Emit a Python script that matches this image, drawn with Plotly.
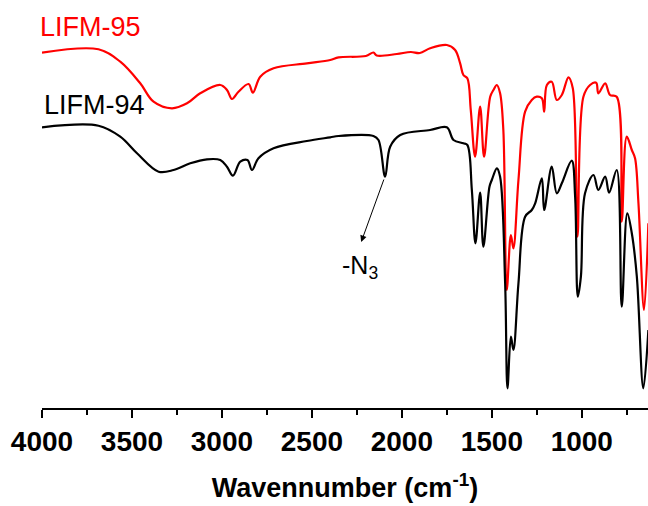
import plotly.graph_objects as go

# Wavenumbers (cm^-1) and transmittance (a.u.)
wn_95 = [4000, 3686, 3565, 3454, 3380, 3278, 3194, 3121, 3009, 2972, 2944, 2908, 2852, 2828,
         2787, 2713, 2528, 2398, 2352, 2200, 2158, 2140, 2028, 1950, 1900, 1843, 1750, 1704,
         1676, 1658, 1636, 1617, 1593, 1565, 1543, 1509, 1491, 1472, 1454, 1436, 1417, 1394,
         1380, 1352, 1315, 1278, 1250, 1222, 1209, 1194, 1167, 1139, 1111, 1074, 1050, 1024,
         991, 954, 920, 908, 870, 843, 806, 778, 750, 722, 704, 685, 654, 630]
t_95 = [355.3, 358.7, 346.3, 324.7, 306.3, 299.7, 304.7, 314.7, 323, 318, 309, 316.3, 324, 315.3,
        331.3, 339.7, 344.7, 348, 350.7, 352, 355.5, 352.5, 354, 356, 355, 359.7, 363, 358,
        344.7, 333, 329.7, 298, 251.3, 301.3, 251.3, 311.3, 318, 323, 314.7, 278, 118, 173,
        159.7, 228, 296.3, 308, 311.3, 309.7, 296.3, 323, 326.3, 308, 313, 330.7, 319.7, 171.3,
        311.3, 323, 325.3, 314.7, 324.7, 313, 311.3, 186.3, 271.3, 258, 249.7, 204.7, 98, 184.7]

wn_94 = [4000, 3686, 3565, 3472, 3352, 3269, 3176, 3083, 3009, 2972, 2939, 2898, 2858, 2833,
         2797, 2713, 2528, 2398, 2352, 2158, 2130, 2093, 2065, 2009, 1843, 1750, 1713, 1658,
         1636, 1611, 1591, 1565, 1547, 1513, 1500, 1472, 1454, 1426, 1413, 1394, 1380, 1352,
         1315, 1278, 1259, 1222, 1209, 1167, 1139, 1111, 1056, 1037, 1022, 1005, 982, 935,
         908, 870, 848, 806, 778, 747, 722, 694, 658, 630]
t_94 = [280.7, 282.3, 271.3, 254.7, 236.3, 238, 244.7, 248.7, 248, 241.3, 232.3, 246.3, 248, 238,
        249.7, 259.7, 267, 270.7, 272, 272, 268, 231.3, 261.3, 273, 278, 280.7, 268, 264.7,
        263, 218, 164.7, 215.3, 161.3, 221.3, 228, 239.7, 231.3, 124.7, 19.7, 71.3, 58, 124.7,
        191.3, 198, 204.7, 229.7, 198, 241.3, 214.7, 224.7, 247.3, 211.3, 111.3, 131.3, 214.7, 233,
        218, 231.3, 215.3, 238, 101.3, 194.7, 174.7, 131.3, 19.7, 78]

x_ticks = [4000, 3500, 3000, 2500, 2000, 1500, 1000]

fig = go.Figure()
fig.add_trace(go.Scatter(x=wn_95, y=t_95, mode="lines", name="LIFM-95",
                         line=dict(color="#ff0000", width=2.2), line_shape="spline"))
fig.add_trace(go.Scatter(x=wn_94, y=t_94, mode="lines", name="LIFM-94",
                         line=dict(color="#000000", width=2.2), line_shape="spline"))

fig.update_layout(
    width=648, height=506,
    margin=dict(l=42, r=0, t=0, b=98),
    paper_bgcolor="white", plot_bgcolor="white",
    showlegend=False,
    font=dict(family="Liberation Sans, Arial, sans-serif", color="black"),
    xaxis=dict(
        range=[4000, 632], showgrid=False, zeroline=False,
        showline=True, linecolor="black", linewidth=1.5,
        ticks="outside", ticklen=8, tickwidth=1.5, tickcolor="black",
        tickvals=x_ticks, ticktext=[str(v) for v in x_ticks],
        tickfont=dict(size=28, weight="bold", family="Liberation Sans, Arial, sans-serif"),
        minor=dict(ticks="outside", ticklen=5, tickwidth=1.5, tickcolor="black", dtick=250,
                   tick0=4000, showgrid=False),
        title=dict(text="Wavennumber (cm<sup>-1</sup>)", standoff=22,
                   font=dict(size=27, weight="bold", family="Liberation Sans, Arial, sans-serif")),
    ),
    yaxis=dict(range=[0, 408], visible=False),
    annotations=[
        dict(x=4000, y=381, xref="x", yref="y", text="LIFM-95", showarrow=False,
             xanchor="left", yanchor="middle", xshift=-4,
             font=dict(size=27, color="#ff0000")),
        dict(x=4000, y=303, xref="x", yref="y", text="LIFM-94", showarrow=False,
             xanchor="left", yanchor="middle", xshift=0,
             font=dict(size=27, color="black")),
        dict(x=2226, y=166, xref="x", yref="y", ax=2097, ay=230, axref="x", ayref="y",
             text="", showarrow=True, arrowhead=2, arrowsize=1.3, arrowwidth=1, arrowcolor="black"),
        dict(x=2230, y=141, xref="x", yref="y", text="-N<sub>3</sub>", showarrow=False,
             xanchor="center", yanchor="middle", font=dict(size=25, color="black")),
    ],
)

fig.write_html("out.html")
